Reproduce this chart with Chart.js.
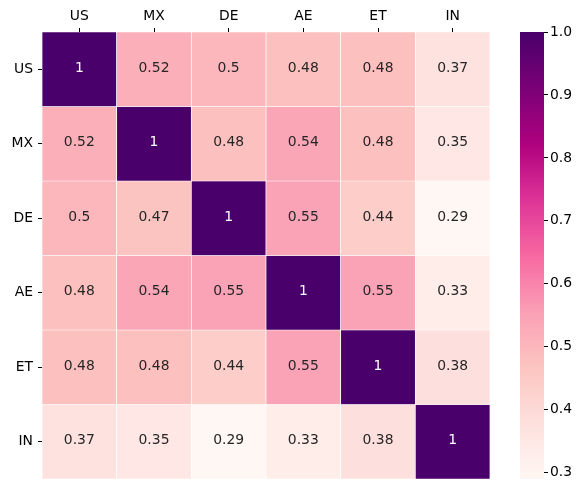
<!DOCTYPE html>
<html>
<head>
<meta charset="utf-8">
<script src="https://cdn.jsdelivr.net/npm/chart.js@4"></script>
<style>
  body { margin: 0; background: #fff; }
  #wrap { position: relative; width: 584px; height: 480px; }
  #heat { position: absolute; left: 0; top: 0; }
  #bar { position: absolute; left: 510px; top: 0; }
</style>
</head>
<body>
<div id="wrap">
  <canvas id="heat" width="500" height="480"></canvas>
  <canvas id="bar" width="74" height="480"></canvas>
</div>
<script>
// datos de la matriz
const countries = ['US', 'MX', 'DE', 'AE', 'ET', 'IN'];
const rowUS = [1, 0.52, 0.5, 0.48, 0.48, 0.37];
const rowMX = [0.52, 1, 0.48, 0.54, 0.48, 0.35];
const rowDE = [0.5, 0.47, 1, 0.55, 0.44, 0.29];
const rowAE = [0.48, 0.54, 0.55, 1, 0.55, 0.33];
const rowET = [0.48, 0.48, 0.44, 0.55, 1, 0.38];
const rowIN = [0.37, 0.35, 0.29, 0.33, 0.38, 1];
const rows = [rowUS, rowMX, rowDE, rowAE, rowET, rowIN];
const colorbarTicks = [0.3, 0.4, 0.5, 0.6, 0.7, 0.8, 0.9, 1.0];
const vmin = 0.29;
const vmax = 1.0;

// paleta RdPu
const rdpu = ['#fff7f3', '#fde0dd', '#fcc5c0', '#fa9fb5', '#f768a1', '#dd3497', '#ae017e', '#7a0177', '#49006a'];

function hexToRgb(h) {
    return [parseInt(h.slice(1, 3), 16), parseInt(h.slice(3, 5), 16), parseInt(h.slice(5, 7), 16)];
}

function colorFor(v) {
    let t = (v - vmin) / (vmax - vmin);
    t = Math.max(0, Math.min(1, t));
    const pos = t * (rdpu.length - 1);
    const i = Math.min(Math.floor(pos), rdpu.length - 2);
    const f = pos - i;
    const a = hexToRgb(rdpu[i]);
    const b = hexToRgb(rdpu[i + 1]);
    const c = a.map((x, k) => Math.round(x + (b[k] - x) * f));
    return `rgb(${c[0]},${c[1]},${c[2]})`;
}

function isDark(v) {
    const c = colorFor(v).match(/\d+/g).map(Number);
    const lum = 0.2126 * c[0] + 0.7152 * c[1] + 0.0722 * c[2];
    return lum < 110;
}

Chart.defaults.font.family = 'DejaVu Sans';
Chart.defaults.font.size = 13.9;
Chart.defaults.color = '#000';

// texto dentro de cada celda
const cellLabels = {
    id: 'cellLabels',
    afterDatasetsDraw(chart) {
        const ctx = chart.ctx;
        ctx.save();
        ctx.font = '13.9px "DejaVu Sans"';
        ctx.textAlign = 'center';
        ctx.textBaseline = 'middle';
        chart.data.datasets.forEach((ds, r) => {
            const meta = chart.getDatasetMeta(r);
            meta.data.forEach((el, c) => {
                const v = rows[r][c];
                ctx.fillStyle = isDark(v) ? '#ffffff' : '#262626';
                ctx.fillText(String(v), el.x, (el.y + el.base) / 2 - 1);
            });
        });
        ctx.restore();
    }
};

new Chart(document.getElementById('heat'), {
    type: 'bar',
    data: {
        labels: countries,
        datasets: rows.map((row, r) => ({
            label: countries[r],
            data: row.map(() => 1),
            backgroundColor: row.map(v => colorFor(v)),
            borderColor: '#ffffff',
            borderWidth: 0.7,
            borderSkipped: false,
            barPercentage: 1,
            categoryPercentage: 1
        }))
    },
    options: {
        responsive: false,
        animation: false,
        layout: { padding: { top: 0, right: 10, bottom: 1, left: 0 } },
        plugins: {
            legend: { display: false },
            tooltip: { enabled: false }
        },
        scales: {
            x: {
                position: 'top',
                stacked: true,
                afterFit(scale) {
                    scale.height = 32;
                    scale.paddingLeft = 0;
                    scale.paddingRight = 0;
                },
                grid: {
                    offset: false,
                    drawOnChartArea: false,
                    drawTicks: true,
                    tickLength: 4,
                    color: '#000'
                },
                border: { display: false },
                ticks: { padding: 3, maxRotation: 0 }
            },
            y: {
                stacked: true,
                min: 0,
                max: 6,
                reverse: true,
                afterFit(scale) {
                    scale.width = 42;
                    scale.paddingTop = 0;
                    scale.paddingBottom = 0;
                },
                afterBuildTicks(scale) {
                    scale.ticks = countries.map((c, i) => ({ value: i + 0.5 }));
                },
                grid: {
                    drawOnChartArea: false,
                    drawTicks: true,
                    tickLength: 4,
                    color: '#000'
                },
                border: { display: false },
                ticks: {
                    padding: 5,
                    callback(value, index) { return countries[index]; }
                }
            }
        }
    },
    plugins: [cellLabels]
});

// barra de color
new Chart(document.getElementById('bar'), {
    type: 'bar',
    data: {
        labels: ['escala'],
        datasets: [{
            data: [[vmin, vmax]],
            backgroundColor(context) {
                const area = context.chart.chartArea;
                if (!area) return rdpu[0];
                const g = context.chart.ctx.createLinearGradient(0, area.bottom, 0, area.top);
                rdpu.forEach((col, i) => g.addColorStop(i / (rdpu.length - 1), col));
                return g;
            },
            borderWidth: 0,
            barPercentage: 1,
            categoryPercentage: 1
        }]
    },
    options: {
        responsive: false,
        animation: false,
        layout: { padding: { top: 32, right: 0, bottom: 1, left: 10 } },
        plugins: {
            legend: { display: false },
            tooltip: { enabled: false }
        },
        scales: {
            x: { display: false },
            y: {
                position: 'right',
                min: vmin,
                max: vmax,
                afterFit(scale) {
                    scale.width = 40;
                    scale.paddingTop = 0;
                    scale.paddingBottom = 0;
                },
                afterBuildTicks(scale) {
                    scale.ticks = colorbarTicks.map(v => ({ value: v }));
                },
                grid: {
                    drawOnChartArea: false,
                    drawTicks: true,
                    tickLength: 4,
                    color: '#000'
                },
                border: { display: false },
                ticks: {
                    padding: 2,
                    callback(value) { return value.toFixed(1); }
                }
            }
        }
    }
});
</script>
</body>
</html>
